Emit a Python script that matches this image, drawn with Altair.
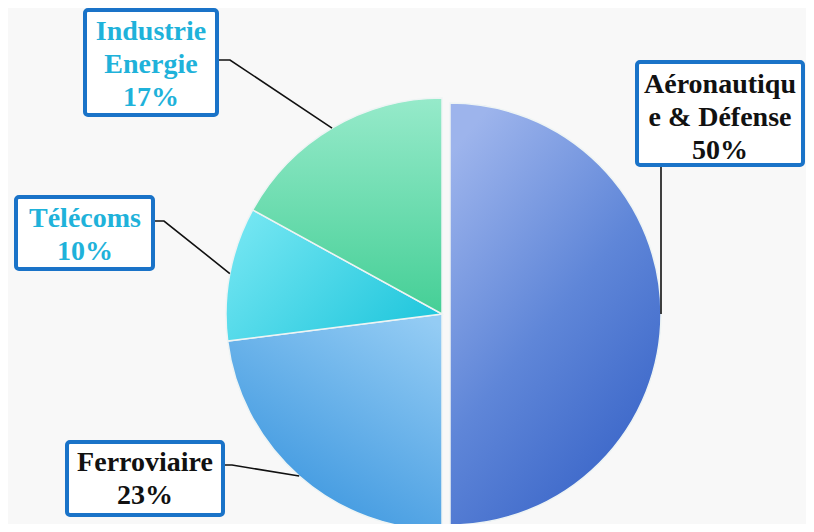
import altair as alt
import pandas as pd
import numpy as np

# ---- data ----
categories = ["Aéronautique & Défense", "Ferroviaire", "Télécoms", "Industrie Energie"]
values = [50, 23, 10, 17]
label_lines = [["Aéronautiqu", "e & Défense"], ["Ferroviaire"], ["Télécoms"], ["Industrie", "Energie"]]

# ---- layout (screenshot pixels) ----
M = 8
W, H = 798, 516
CX, CY, R = 442, 314, 216            # main pie
EX_CX, EX_R = 450, 211               # exploded slice (Aéronautique)
box_x1 = [637, 67, 16, 85]
box_x2 = [803, 223, 153, 217]
box_y1 = [62, 442, 197, 10]
box_y2 = [165, 515, 269, 115]
text_cx = [720, 145, 85, 151]
text_y0 = [85, 463, 219, 32]          # centre of first text line
leader_start = [(661, 167), (225, 465), (155, 221), (219, 60)]
leader_elbow = [(661, 167), (232, 465), (164, 221), (230, 60)]
text_colors = ["#111111", "#111111", "#1fb2da", "#1fb2da"]

gradients = [
    alt.LinearGradient(gradient="linear", x1=0.2, y1=0, x2=0.8, y2=1,
                       stops=[alt.GradientStop(offset=0, color="#9db4ec"),
                              alt.GradientStop(offset=0.5, color="#5f86d8"),
                              alt.GradientStop(offset=1, color="#3561c6")]),
    alt.LinearGradient(gradient="linear", x1=0.9, y1=0, x2=0.3, y2=1,
                       stops=[alt.GradientStop(offset=0, color="#94ccf4"),
                              alt.GradientStop(offset=1, color="#3894de")]),
    alt.LinearGradient(gradient="linear", x1=0, y1=0.2, x2=1, y2=0.8,
                       stops=[alt.GradientStop(offset=0, color="#74e6f2"),
                              alt.GradientStop(offset=1, color="#1fc6dc")]),
    alt.LinearGradient(gradient="linear", x1=0.5, y1=0, x2=0.5, y2=1,
                       stops=[alt.GradientStop(offset=0, color="#96eaca"),
                              alt.GradientStop(offset=1, color="#45cf96")]),
]

total = float(sum(values))
ends = np.cumsum(values) / total * 100
starts = ends - np.array(values) / total * 100
df = pd.DataFrame({"category": categories, "value": values, "start": starts, "end": ends})

arcs = []
for i, cat in enumerate(categories):
    cx = EX_CX if i == 0 else CX
    r = EX_R if i == 0 else R
    arcs.append(
        alt.Chart(df)
        .transform_filter(alt.datum.category == cat)
        .mark_arc(fill=gradients[i], radius=r, stroke="#eef4f4", strokeWidth=1.5)
        .encode(
            theta=alt.Theta("start:Q", scale=alt.Scale(domain=[0, 100]), stack=None),
            theta2="end:Q",
            x=alt.value(cx - M),
            y=alt.value(CY - M),
        )
    )

# leader lines: box -> elbow -> rim at slice mid-angle
rows = []
for i, cat in enumerate(categories):
    mid = (starts[i] + ends[i]) / 2 / 100 * 2 * np.pi
    cx = EX_CX if i == 0 else CX
    r = EX_R if i == 0 else R
    rim = (cx + r * np.sin(mid), CY - r * np.cos(mid))
    for k, p in enumerate([leader_start[i], leader_elbow[i], rim]):
        rows.append({"category": cat, "ord": k, "px": p[0] - M, "py": p[1] - M})
lines_df = pd.DataFrame(rows)
leaders = alt.Chart(lines_df).mark_line(color="#111111", strokeWidth=1.6).encode(
    x=alt.X("px:Q", scale=None),
    y=alt.Y("py:Q", scale=None),
    detail="category:N",
    order="ord:Q",
)

lab_df = pd.DataFrame({
    "category": categories,
    "text": ["\n".join(label_lines[i] + [f"{values[i]}%"]) for i in range(len(categories))],
    "bx1": [v - M for v in box_x1], "bx2": [v - M for v in box_x2],
    "by1": [v - M for v in box_y1], "by2": [v - M for v in box_y2],
    "tx": [v - M for v in text_cx], "ty": [v - M for v in text_y0],
    "tc": text_colors,
})

boxes = alt.Chart(lab_df).mark_rect(fill="white", stroke="#1a73c8", strokeWidth=4, cornerRadius=3).encode(
    x=alt.X("bx1:Q", scale=None), x2="bx2:Q",
    y=alt.Y("by1:Q", scale=None), y2="by2:Q",
)

texts = alt.Chart(lab_df).mark_text(
    font="Liberation Serif", fontWeight="bold", fontSize=28, lineBreak="\n",
    lineHeight=33, align="center", baseline="middle",
).encode(
    x=alt.X("tx:Q", scale=None),
    y=alt.Y("ty:Q", scale=None),
    text="text:N",
    color=alt.Color("tc:N", scale=None),
)

chart = alt.layer(*arcs, leaders, boxes, texts).properties(
    width=W, height=H, background="#f8f8f8", padding=0, autosize="none"
).configure_view(stroke=None)

chart.save("out.html", embed_options={"renderer": "svg", "actions": False})
